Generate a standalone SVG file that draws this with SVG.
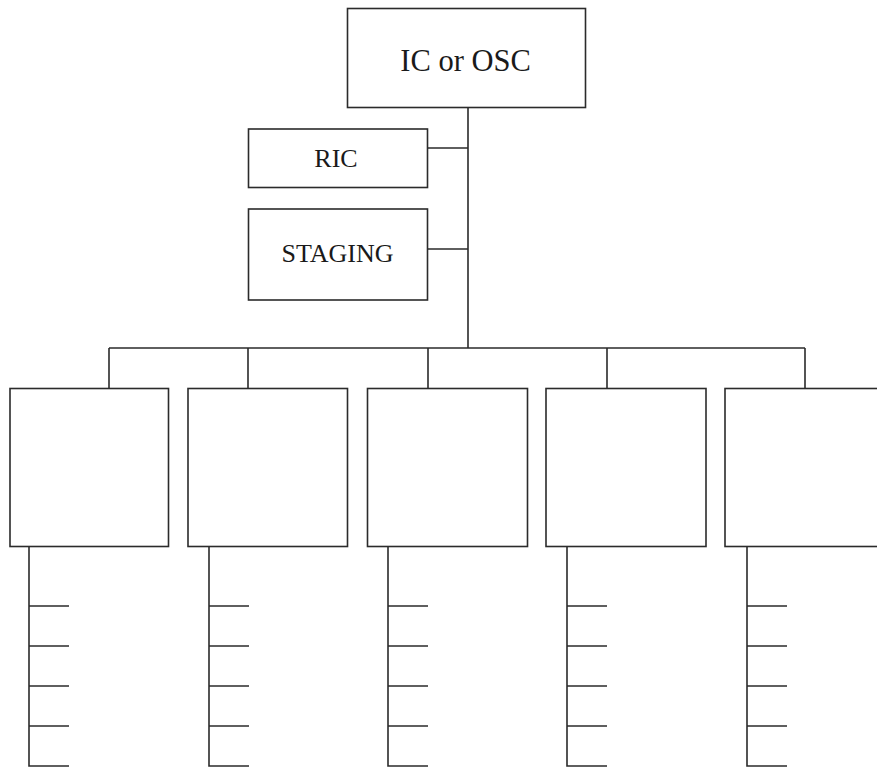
<svg xmlns="http://www.w3.org/2000/svg" width="877" height="768" viewBox="0 0 877 768">
<style>
.box{fill:#fff;stroke:#2b2b2b;stroke-width:1.6}
.ln{fill:none;stroke:#2b2b2b;stroke-width:1.6}
.t{font-family:"Liberation Serif","Times New Roman",serif;fill:#1a1a1a;text-anchor:middle}
</style>
<rect width="877" height="768" fill="#fff"/>
<g id="connectors">
<path class="ln" d="M468,108 V348 M428,148 H468 M428,249 H468 M109,348 H805 M109,348 V388 M248,348 V388 M428,348 V388 M607,348 V388 M805,348 V388"/>
<path class="ln" d="M29,547 V766 H69 M29,606 H69 M29,646 H69 M29,686 H69 M29,726 H69"/>
<path class="ln" d="M209,547 V766 H249 M209,606 H249 M209,646 H249 M209,686 H249 M209,726 H249"/>
<path class="ln" d="M388,547 V766 H428 M388,606 H428 M388,646 H428 M388,686 H428 M388,726 H428"/>
<path class="ln" d="M567,547 V766 H607 M567,606 H607 M567,646 H607 M567,686 H607 M567,726 H607"/>
<path class="ln" d="M747,547 V766 H787 M747,606 H787 M747,646 H787 M747,686 H787 M747,726 H787"/>
</g>
<g id="ic"><rect class="box" x="347.5" y="8.5" width="238" height="99"/><text class="t" x="465.5" y="70.5" font-size="30.5">IC or OSC</text></g>
<g id="ric"><rect class="box" x="248.5" y="129" width="179" height="58.5"/><text class="t" x="336" y="166.5" font-size="26">RIC</text></g>
<g id="staging"><rect class="box" x="248.5" y="209" width="179" height="91"/><text class="t" x="337.5" y="261.5" font-size="26">STAGING</text></g>
<g id="unit1"><rect class="box" x="10" y="388.5" width="158.5" height="158"/></g>
<g id="unit2"><rect class="box" x="188" y="388.5" width="159.5" height="158"/></g>
<g id="unit3"><rect class="box" x="367.5" y="388.5" width="160" height="158"/></g>
<g id="unit4"><rect class="box" x="546" y="388.5" width="160" height="158"/></g>
<g id="unit5"><rect class="box" x="725" y="388.5" width="160" height="158"/></g>
</svg>
